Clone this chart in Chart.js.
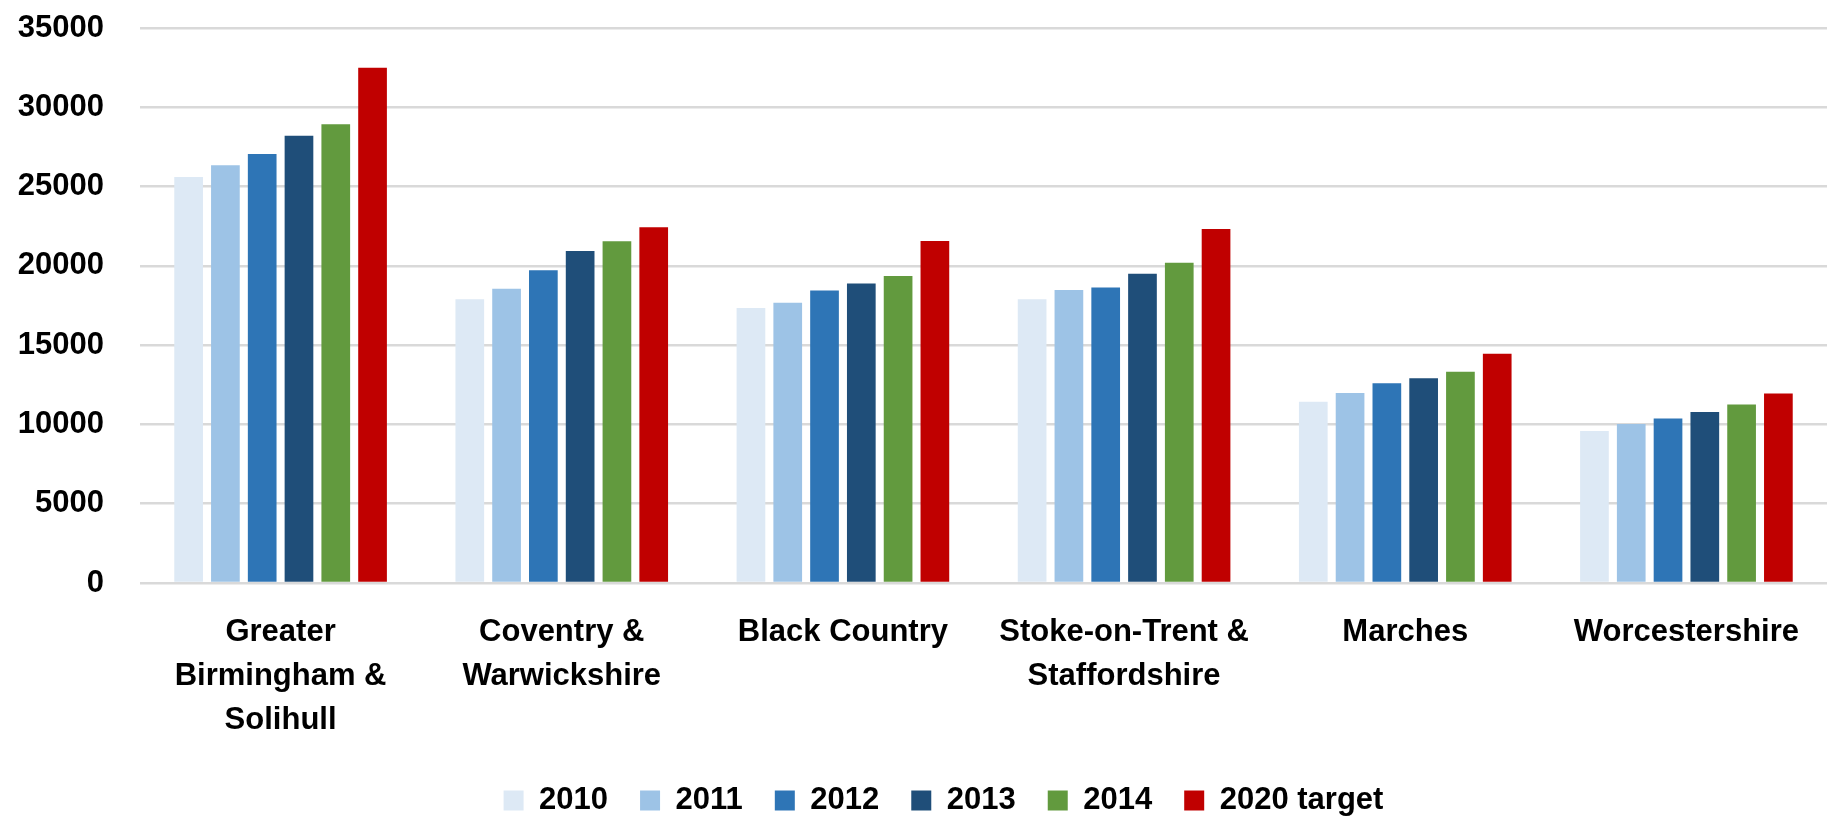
<!DOCTYPE html>
<html>
<head>
<meta charset="utf-8">
<script src="https://cdn.jsdelivr.net/npm/chart.js@4/dist/chart.umd.min.js"></script>
<style>
    html, body { margin: 0; padding: 0; background: #fff; }
    #wrap { width: 1834px; height: 816px; }
</style>
</head>
<body>
<div id="wrap"><canvas id="chart"></canvas></div>
<script>
// Chart data
const regions = [
    ['Greater', 'Birmingham &', 'Solihull'],
    ['Coventry &', 'Warwickshire'],
    'Black Country',
    ['Stoke-on-Trent &', 'Staffordshire'],
    'Marches',
    'Worcestershire'
];
const seriesLabels = ['2010', '2011', '2012', '2013', '2014', '2020 target'];
const values2010 = [25600, 17900, 17350, 17900, 11430, 9580];
const values2011 = [26350, 18550, 17680, 18480, 11980, 10020];
const values2012 = [27050, 19720, 18450, 18640, 12590, 10380];
const values2013 = [28200, 20940, 18880, 19500, 12920, 10780];
const values2014 = [28930, 21550, 19360, 20200, 13320, 11260];
const values2020 = [32490, 22430, 21570, 22330, 14450, 11950];
const yTicks = [0, 5000, 10000, 15000, 20000, 25000, 30000, 35000];

const seriesColors = ['#DDE9F5', '#9DC3E6', '#2E75B6', '#1F4E79', '#629A3E', '#C00000'];
const seriesValues = [values2010, values2011, values2012, values2013, values2014, values2020];

const fontFamily = "'Liberation Sans', Arial, sans-serif";

// Legend keeps wide gaps between items but no extra room above/below,
// and sits a little right of the canvas centre like the original
const legendTweakPlugin = {
    id: 'legendTweak',
    beforeLayout(chart) {
        const legend = chart.legend;
        if (legend && !legend._fitPatched) {
            const origFit = legend.fit.bind(legend);
            legend.fit = function() {
                origFit();
                this.height = 63;
            };
            legend._fitPatched = true;
        }
    },
    afterLayout(chart) {
        if (chart.legend) {
            chart.legend.left += 30;
            chart.legend.right += 30;
        }
    }
};

document.addEventListener('DOMContentLoaded', function() {
    const ctx = document.getElementById('chart').getContext('2d');

    const datasets = seriesLabels.map((label, i) => ({
        label: label,
        data: seriesValues[i],
        backgroundColor: seriesColors[i],
        borderWidth: 0,
        categoryPercentage: 0.785,
        barPercentage: 0.78
    }));

    new Chart(ctx, {
        type: 'bar',
        data: {
            labels: regions,
            datasets: datasets
        },
        plugins: [legendTweakPlugin],
        options: {
            responsive: true,
            maintainAspectRatio: false,
            animation: false,
            layout: {
                padding: { top: 28, right: 7, left: 0, bottom: 0 }
            },
            plugins: {
                tooltip: { enabled: false },
                legend: {
                    position: 'bottom',
                    labels: {
                        color: '#000',
                        boxWidth: 20,
                        boxHeight: 20,
                        padding: 32,
                        font: { family: fontFamily, size: 31, weight: 'bold' }
                    }
                }
            },
            scales: {
                x: {
                    grid: { display: false, drawTicks: false },
                    border: { display: false },
                    ticks: {
                        color: '#000',
                        padding: 27,
                        maxRotation: 0,
                        autoSkip: false,
                        font: { family: fontFamily, size: 31, weight: 'bold', lineHeight: 1.42 }
                    },
                    afterFit: function(scale) {
                        scale.height = 170;
                    }
                },
                y: {
                    min: 0,
                    max: 35000,
                    afterBuildTicks: function(scale) {
                        scale.ticks = yTicks.map(v => ({ value: v }));
                    },
                    grid: {
                        color: '#D9D9D9',
                        lineWidth: 2.5,
                        drawTicks: false
                    },
                    border: { display: false },
                    ticks: {
                        color: '#000',
                        padding: 36,
                        font: { family: fontFamily, size: 31, weight: 'bold' },
                        callback: function(value) {
                            return String(value);
                        }
                    },
                    afterFit: function(scale) {
                        scale.width = 140;
                        // tick padding should only push labels sideways
                        scale.paddingTop = 0;
                        scale.paddingBottom = 0;
                    }
                }
            }
        }
    });
});
</script>
</body>
</html>
